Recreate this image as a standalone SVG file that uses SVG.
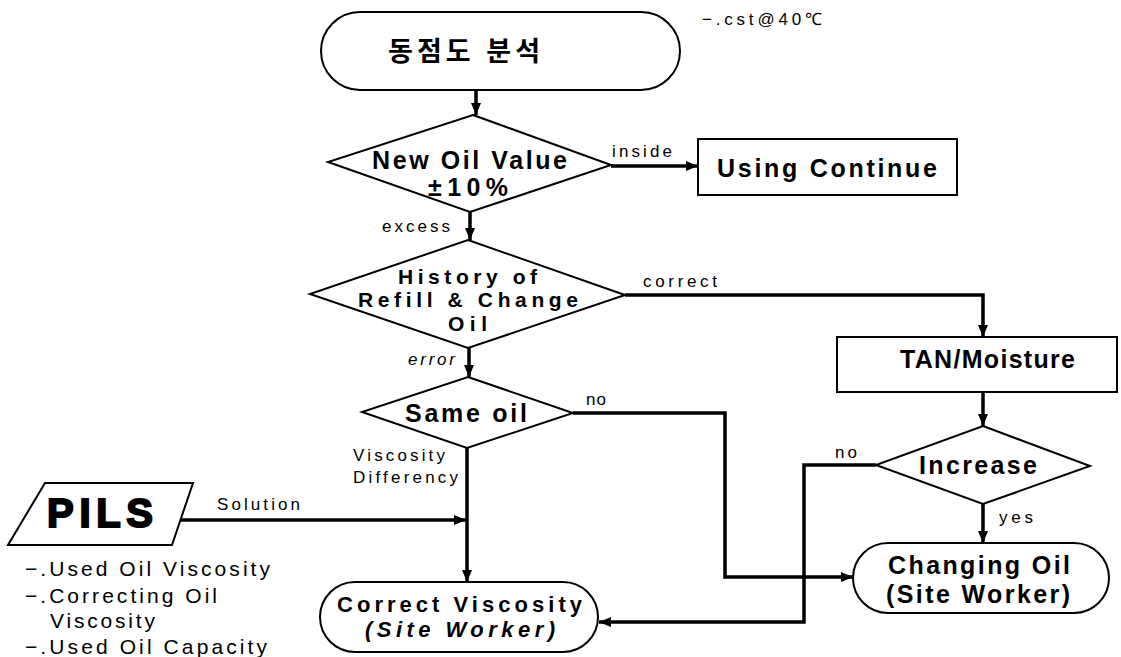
<svg xmlns="http://www.w3.org/2000/svg" width="1121" height="657" viewBox="0 0 1121 657">
  <style>
    .shape { fill: #fff; stroke: #000; stroke-width: 2; }
    .wire { fill: none; stroke: #000; stroke-width: 3.5; stroke-linejoin: miter; }
    text { font-family: "Liberation Sans", Arial, sans-serif; fill: #000; }
    .title { font-size: 25px; font-weight: bold; }
    .tight { font-size: 22px; font-weight: bold; }
    .stack { font-size: 21px; font-weight: bold; }
    .lbl { font-size: 17px; }
    .note { font-size: 21px; }
    .kr { font-family: "Liberation Sans", "Noto Sans CJK KR", sans-serif; font-size: 27px; font-weight: bold; }
  </style>
  <defs>
    <marker id="arrow" viewBox="0 0 12 10" refX="12" refY="5" markerWidth="12" markerHeight="10" markerUnits="userSpaceOnUse" orient="auto">
      <path d="M0,0 L12,5 L0,10 Z" fill="#000"/>
    </marker>
  </defs>

  <!-- connectors -->
  <g id="connectors">
    <path class="wire" d="M476,90 V115" marker-end="url(#arrow)"/>
    <path class="wire" d="M611,166 H698" marker-end="url(#arrow)"/>
    <path class="wire" d="M470,212 V240" marker-end="url(#arrow)"/>
    <path class="wire" d="M625,295 H983 V337" marker-end="url(#arrow)"/>
    <path class="wire" d="M469,348 V377" marker-end="url(#arrow)"/>
    <path class="wire" d="M573,413 H725 V577 H853" marker-end="url(#arrow)"/>
    <path class="wire" d="M467,448 V582" marker-end="url(#arrow)"/>
    <path class="wire" d="M172,520 H466" marker-end="url(#arrow)"/>
    <path class="wire" d="M983,392 V426" marker-end="url(#arrow)"/>
    <path class="wire" d="M983,504 V543" marker-end="url(#arrow)"/>
    <path class="wire" d="M876,465 H804 V622 H599" marker-end="url(#arrow)"/>

    <text class="lbl" x="612" y="157" textLength="60" lengthAdjust="spacing">inside</text>
    <text class="lbl" x="382" y="232" textLength="68" lengthAdjust="spacing">excess</text>
    <text class="lbl" x="643" y="287" textLength="74" lengthAdjust="spacing">correct</text>
    <text class="lbl" x="408" y="365" font-style="italic" textLength="47" lengthAdjust="spacing">error</text>
    <text class="lbl" x="586" y="405" textLength="20" lengthAdjust="spacing">no</text>
    <text class="lbl" x="353" y="461" textLength="92" lengthAdjust="spacing">Viscosity</text>
    <text class="lbl" x="353" y="483" textLength="105" lengthAdjust="spacing">Differency</text>
    <text class="lbl" x="217" y="510" textLength="83" lengthAdjust="spacing">Solution</text>
    <text class="lbl" x="835" y="458" textLength="22" lengthAdjust="spacing">no</text>
    <text class="lbl" x="999" y="523" textLength="34" lengthAdjust="spacing">yes</text>
  </g>

  <!-- start: kinematic viscosity analysis -->
  <g id="start">
    <rect class="shape" x="321" y="12" width="359" height="78" rx="39" ry="39"/>
    <text class="kr" x="388" y="61" textLength="152" lengthAdjust="spacing">동점도 분석</text>
  </g>
  <g id="note-cst">
    <text class="lbl" x="702" y="25" textLength="120" lengthAdjust="spacing">−.cst@40℃</text>
  </g>

  <g id="new-oil-value">
    <path class="shape" d="M473,115 L611,165 L470,212 L328,162 Z"/>
    <text class="title" x="372" y="169" textLength="195" lengthAdjust="spacing">New Oil Value</text>
    <text class="title" x="428" y="196" textLength="80" lengthAdjust="spacing">±10%</text>
  </g>

  <g id="using-continue">
    <rect class="shape" x="698" y="139" width="259" height="56"/>
    <text class="title" x="717" y="177" textLength="220" lengthAdjust="spacing">Using Continue</text>
  </g>

  <g id="history">
    <path class="shape" d="M468,240 L625,295 L468,348 L310,294 Z"/>
    <text class="stack" x="398" y="284" textLength="139" lengthAdjust="spacing">History of</text>
    <text class="stack" x="358" y="307" textLength="220" lengthAdjust="spacing">Refill &amp; Change</text>
    <text class="stack" x="448" y="331" textLength="39" lengthAdjust="spacing">Oil</text>
  </g>

  <g id="tan-moisture">
    <rect class="shape" x="837" y="337" width="280" height="55"/>
    <text class="title" x="900" y="368" textLength="175" lengthAdjust="spacing">TAN/Moisture</text>
  </g>

  <g id="same-oil">
    <path class="shape" d="M468,377 L573,413 L467,448 L362,412 Z"/>
    <text class="title" x="405" y="422" textLength="122" lengthAdjust="spacing">Same oil</text>
  </g>

  <g id="increase">
    <path class="shape" d="M983,426 L1090,466 L983,504 L876,465 Z"/>
    <text class="title" x="919" y="474" textLength="118" lengthAdjust="spacing">Increase</text>
  </g>

  <g id="pils">
    <path class="shape" d="M45,483 L193,483 L172,545 L8,545 Z"/>
    <text x="47" y="527" font-size="40" font-weight="bold" stroke="#000" stroke-width="2" textLength="106" lengthAdjust="spacing">PILS</text>
  </g>
  <g id="pils-notes">
    <text class="note" x="25" y="576" textLength="245" lengthAdjust="spacing">−.Used Oil Viscosity</text>
    <text class="note" x="25" y="603" textLength="192" lengthAdjust="spacing">−.Correcting Oil</text>
    <text class="note" x="50" y="628" textLength="105" lengthAdjust="spacing">Viscosity</text>
    <text class="note" x="25" y="654" textLength="242" lengthAdjust="spacing">−.Used Oil Capacity</text>
  </g>

  <g id="correct-viscosity">
    <rect class="shape" x="320" y="582" width="278" height="70" rx="35" ry="35"/>
    <text class="tight" x="337" y="612" textLength="245" lengthAdjust="spacing">Correct Viscosity</text>
    <text class="tight" x="365" y="637" font-style="italic" textLength="190" lengthAdjust="spacing">(Site Worker)</text>
  </g>

  <g id="changing-oil">
    <rect class="shape" x="853" y="543" width="256" height="70" rx="35" ry="35"/>
    <text class="title" x="888" y="574" textLength="182" lengthAdjust="spacing">Changing Oil</text>
    <text class="title" x="886" y="603" textLength="184" lengthAdjust="spacing">(Site Worker)</text>
  </g>
</svg>
